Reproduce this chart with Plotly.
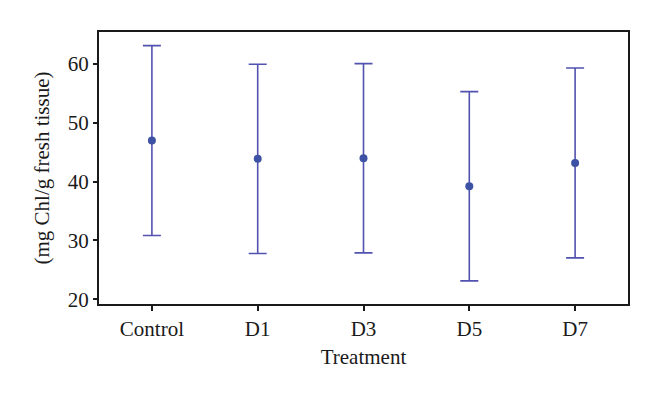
import plotly.graph_objects as go

categories = ["Control", "D1", "D3", "D5", "D7"]
means = [46.95, 43.85, 43.95, 39.2, 43.15]
errors = [16.1, 16.05, 16.05, 16.05, 16.1]
y_ticks = [20, 30, 40, 50, 60]

FONT = "Liberation Serif"

fig = go.Figure()
fig.add_trace(go.Scatter(
    x=categories, y=means, mode="markers",
    marker=dict(color="#3d52a4", size=8),
    error_y=dict(type="data", array=errors, visible=True,
                 color="#5252b0", thickness=1.6, width=9),
    showlegend=False,
))

fig.update_layout(
    width=660, height=396,
    margin=dict(l=91, r=40, t=24, b=100),
    paper_bgcolor="white", plot_bgcolor="white",
    font=dict(family=FONT, size=21, color="#1a1a1a"),
)
fig.update_xaxes(
    range=[-0.5, 4.5], showline=True, mirror=True, linewidth=2, linecolor="#1a1a1a",
    ticks="outside", ticklen=5, tickwidth=1.5, tickcolor="#1a1a1a",
    showgrid=False, zeroline=False,
    title=dict(text="Treatment", standoff=9, font=dict(size=21)),
    tickfont=dict(size=21),
)
fig.update_yaxes(
    range=[19.22, 65.37], showline=True, mirror=True, linewidth=2, linecolor="#1a1a1a",
    ticks="outside", ticklen=4, tickwidth=1.5, tickcolor="#1a1a1a",
    tickvals=y_ticks, showgrid=False, zeroline=False,
    title=dict(text="(mg Chl/g fresh tissue)", standoff=12, font=dict(size=21)),
    tickfont=dict(size=21),
)

fig.write_html("out.html")
